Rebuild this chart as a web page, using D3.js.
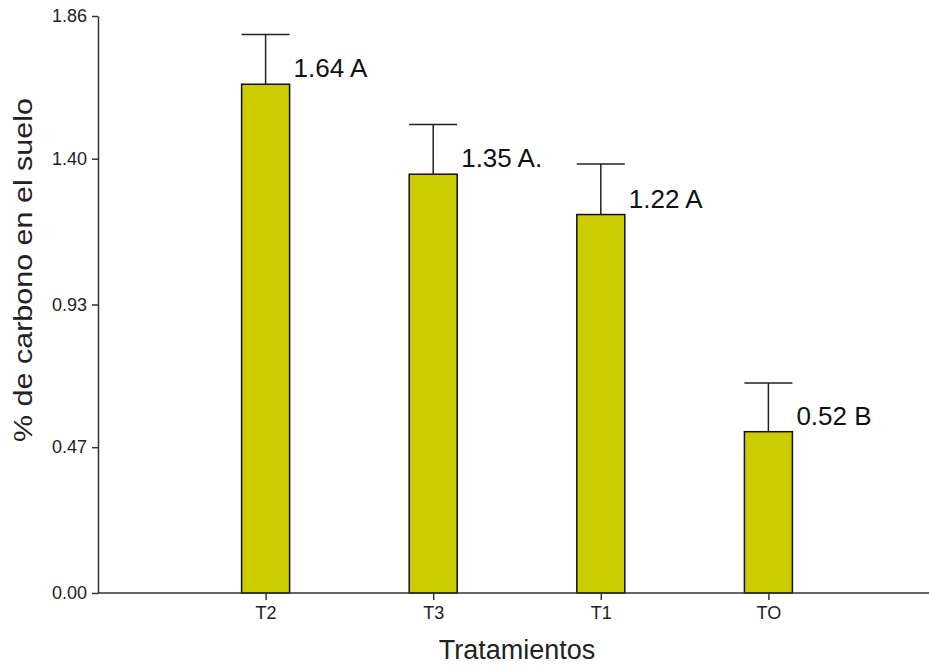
<!DOCTYPE html>
<html><head><meta charset="utf-8">
<script src="https://cdn.jsdelivr.net/npm/d3@7"></script>
<style>body{margin:0;background:#fff}</style>
</head><body>
<script>
const categories = ["T2","T3","T1","TO"];
const means = [1.64, 1.35, 1.22, 0.52];
const errors = [0.16, 0.16, 0.163, 0.157];
const labels = ["1.64 A","1.35 A.","1.22 A","0.52 B"];
const yTicks = [0.00, 0.47, 0.93, 1.40, 1.86];

const W = 929, H = 666;
const FONT = "Liberation Sans, Arial, sans-serif";
const svg = d3.select("body").append("svg").attr("width", W).attr("height", H);
const x0 = 98, y0 = 593;
const y = d3.scaleLinear().domain([0, 1.86]).range([y0, 16]);
const x = d3.scalePoint().domain(categories).range([x0, 936]).padding(1);
const bw = 48;

// bars
const g = svg.append("g");
categories.forEach((c, i) => {
  const cx = x(c);
  g.append("rect").attr("x", cx - bw/2).attr("y", y(means[i]))
    .attr("width", bw).attr("height", y(0) - y(means[i]))
    .attr("fill", "#cccc00").attr("stroke", "#111").attr("stroke-width", 1.5);
  const top = y(means[i] + errors[i]);
  g.append("line").attr("x1", cx).attr("x2", cx).attr("y1", y(means[i])).attr("y2", top)
    .attr("stroke", "#222").attr("stroke-width", 1.5);
  g.append("line").attr("x1", cx - bw/2).attr("x2", cx + bw/2).attr("y1", top).attr("y2", top)
    .attr("stroke", "#222").attr("stroke-width", 1.5);
  g.append("text").attr("x", cx + 28).attr("y", y(means[i]) - 7)
    .attr("font-family", FONT).attr("font-size", 26)
    .attr("fill", "#111").text(labels[i]);
});

// y axis
const ya = svg.append("g").attr("transform", `translate(${x0},0)`)
  .call(d3.axisLeft(y).tickValues(yTicks).tickFormat(d3.format(".2f")).tickSize(6).tickSizeOuter(0));
ya.attr("font-size", null).attr("font-family", null);
ya.select(".domain").attr("stroke", "#333").attr("stroke-width", 1.5);
ya.selectAll(".tick line").attr("stroke", "#333").attr("stroke-width", 1.5);
ya.selectAll(".tick text").style("font-family", FONT)
  .style("font-size", "18px").attr("fill", "#222").attr("x", -11);

// x axis
const xa = svg.append("g").attr("transform", `translate(0,${y0})`)
  .call(d3.axisBottom(x).tickSize(7).tickSizeOuter(0));
xa.attr("font-size", null).attr("font-family", null);
xa.select(".domain").attr("d", `M${x0},0H${W}`).attr("stroke", "#333").attr("stroke-width", 1.5);
xa.selectAll(".tick line").attr("stroke", "#333").attr("stroke-width", 1.5);
xa.selectAll(".tick text").style("font-family", FONT)
  .style("font-size", "18px").attr("fill", "#222").attr("y", 13);

// titles
svg.append("text").attr("x", 517).attr("y", 659).attr("text-anchor", "middle")
  .attr("font-family", FONT).attr("font-size", 27)
  .attr("fill", "#222").text("Tratamientos");
svg.append("text").attr("transform", `translate(32,270) rotate(-90)`)
  .attr("text-anchor", "middle")
  .attr("font-family", FONT).attr("font-size", 25)
  .attr("textLength", 344).attr("lengthAdjust", "spacingAndGlyphs")
  .attr("fill", "#222").text("% de carbono en el suelo");
</script>
</body></html>
